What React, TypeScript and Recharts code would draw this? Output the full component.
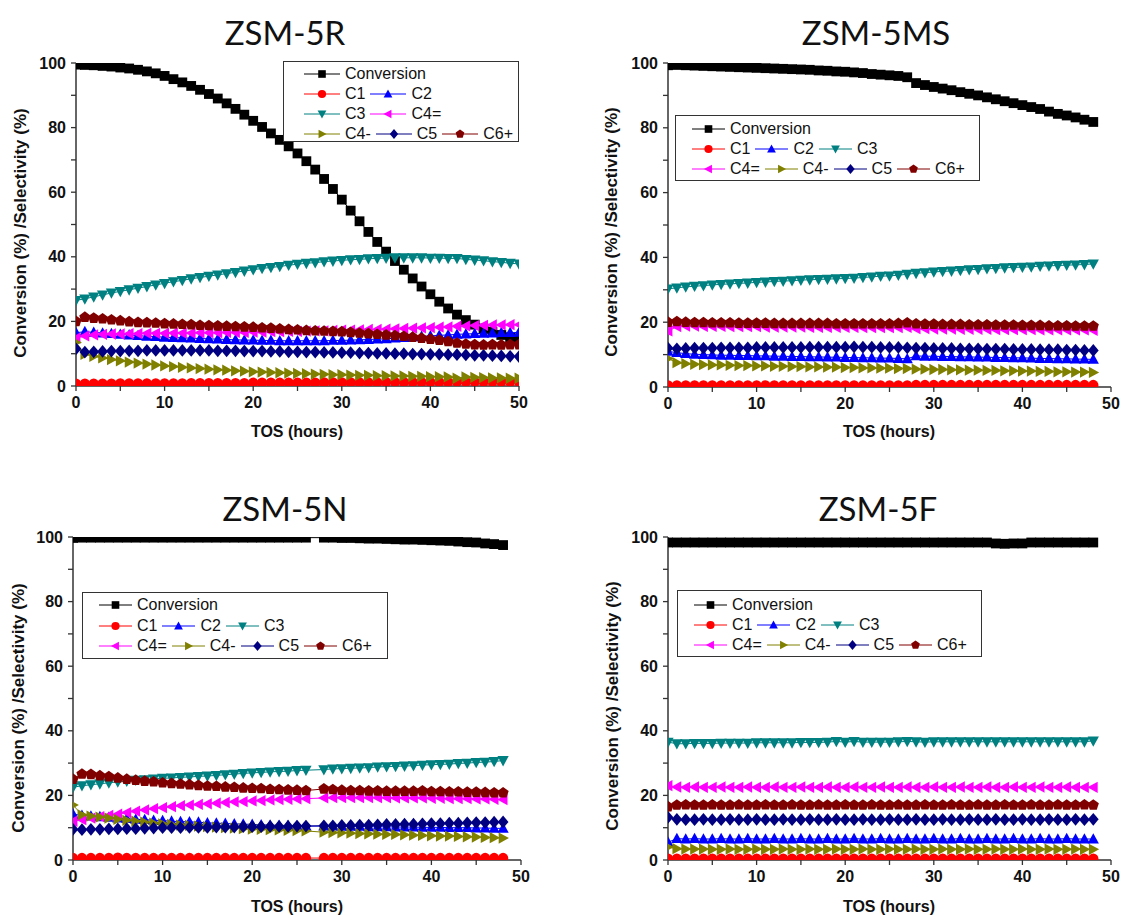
import React from "react";
import { LineChart, Line, XAxis, YAxis } from "recharts";

// time on stream (hours)
const hoursR = [0, 1, 2, 3, 4, 5, 6, 7, 8, 9, 10, 11, 12, 13, 14, 15, 16, 17, 18, 19, 20, 21, 22, 23, 24, 25, 26, 27, 28, 29, 30, 31, 32, 33, 34, 35, 36, 37, 38, 39, 40, 41, 42, 43, 44, 45, 46, 47, 48, 49, 50];
const hours48 = [0, 1, 2, 3, 4, 5, 6, 7, 8, 9, 10, 11, 12, 13, 14, 15, 16, 17, 18, 19, 20, 21, 22, 23, 24, 25, 26, 27, 28, 29, 30, 31, 32, 33, 34, 35, 36, 37, 38, 39, 40, 41, 42, 43, 44, 45, 46, 47, 48];
const hoursN = [0, 1, 2, 3, 4, 5, 6, 7, 8, 9, 10, 11, 12, 13, 14, 15, 16, 17, 18, 19, 20, 21, 22, 23, 24, 25, 26, 28, 29, 30, 31, 32, 33, 34, 35, 36, 37, 38, 39, 40, 41, 42, 43, 44, 45, 46, 47, 48];

const xTicks = [0, 5, 10, 15, 20, 25, 30, 35, 40, 45, 50];
const yTicks = [0, 10, 20, 30, 40, 50, 60, 70, 80, 90, 100];

// ZSM-5R
const convR = [99.5, 99.4, 99.3, 99.1, 98.9, 98.6, 98.3, 97.9, 97.4, 96.8, 96.0, 95.0, 94.0, 92.9, 91.7, 90.4, 89.0, 87.5, 85.8, 84.0, 82.1, 80.2, 78.2, 76.2, 74.2, 72.0, 69.6, 67.0, 64.1, 61.0, 57.7, 54.3, 51.0, 47.7, 44.6, 41.6, 38.7, 36.0, 33.3, 30.8, 28.4, 26.1, 24.0, 22.1, 20.4, 19.0, 17.8, 16.8, 15.8, 14.9, 14.1];
const c1R = [0.7, 0.7, 0.7, 0.7, 0.7, 0.8, 0.8, 0.8, 0.8, 0.8, 0.8, 0.8, 0.8, 0.9, 0.9, 0.9, 0.9, 0.9, 0.9, 0.9, 1.0, 1.0, 1.0, 1.0, 1.0, 1.0, 1.0, 1.0, 1.1, 1.1, 1.1, 1.1, 1.1, 1.1, 1.1, 1.2, 1.2, 1.2, 1.2, 1.2, 1.2, 1.2, 1.2, 1.3, 1.3, 1.3, 1.3, 1.3, 1.3, 1.3, 1.3];
const c2R = [16.5, 16.8, 16.6, 16.4, 16.2, 16.0, 15.8, 15.6, 15.4, 15.3, 15.1, 15.0, 14.9, 14.8, 14.7, 14.6, 14.5, 14.4, 14.3, 14.2, 14.2, 14.1, 14.1, 14.0, 14.0, 14.0, 14.0, 14.0, 14.0, 14.1, 14.1, 14.2, 14.3, 14.4, 14.5, 14.6, 14.8, 15.0, 15.2, 15.4, 15.5, 15.7, 15.8, 16.0, 16.1, 16.2, 16.3, 16.4, 16.5, 16.5, 16.6];
const c3R = [26.5, 27.0, 27.6, 28.2, 28.8, 29.3, 29.8, 30.3, 30.8, 31.3, 31.8, 32.3, 32.7, 33.2, 33.6, 34.0, 34.4, 34.8, 35.2, 35.6, 36.0, 36.4, 36.7, 37.0, 37.4, 37.7, 38.0, 38.2, 38.5, 38.7, 38.9, 39.1, 39.2, 39.4, 39.5, 39.6, 39.7, 39.7, 39.7, 39.7, 39.6, 39.6, 39.5, 39.5, 39.2, 39.0, 38.8, 38.5, 38.3, 38.0, 37.8];
const c4eR = [14.8, 15.5, 15.8, 16.0, 16.1, 16.1, 16.2, 16.2, 16.3, 16.3, 16.3, 16.4, 16.4, 16.4, 16.5, 16.5, 16.5, 16.6, 16.6, 16.6, 16.7, 16.7, 16.8, 16.8, 16.9, 16.9, 17.0, 17.1, 17.1, 17.2, 17.3, 17.3, 17.4, 17.5, 17.5, 17.6, 17.7, 17.8, 17.9, 18.0, 18.1, 18.2, 18.3, 18.5, 18.6, 18.7, 18.8, 18.9, 18.9, 19.0, 19.0];
const c4mR = [13.5, 9.8, 9.2, 8.7, 8.2, 7.8, 7.4, 7.1, 6.8, 6.5, 6.2, 6.0, 5.8, 5.6, 5.4, 5.2, 5.0, 4.9, 4.7, 4.6, 4.4, 4.3, 4.2, 4.1, 4.0, 3.9, 3.8, 3.7, 3.6, 3.5, 3.5, 3.4, 3.3, 3.3, 3.2, 3.2, 3.1, 3.1, 3.0, 3.0, 2.9, 2.9, 2.8, 2.4, 2.8, 2.7, 2.6, 2.5, 2.5, 2.4, 2.4];
const c5R = [11.5, 10.5, 10.6, 10.7, 10.8, 10.8, 10.9, 10.9, 11.0, 11.0, 11.0, 11.0, 11.0, 11.0, 11.0, 11.0, 10.9, 10.9, 10.9, 10.8, 10.8, 10.8, 10.7, 10.7, 10.6, 10.6, 10.5, 10.5, 10.4, 10.4, 10.3, 10.3, 10.2, 10.2, 10.1, 10.1, 10.0, 10.0, 9.9, 9.9, 9.8, 9.8, 9.7, 9.7, 9.6, 9.5, 9.5, 9.4, 9.3, 9.2, 9.1];
const c6R = [20.0, 21.3, 21.0, 20.8, 20.5, 20.2, 19.9, 19.7, 19.6, 19.5, 19.3, 19.2, 19.1, 19.0, 18.8, 18.7, 18.6, 18.5, 18.4, 18.3, 18.2, 18.0, 17.9, 17.7, 17.5, 17.4, 17.2, 17.1, 17.0, 16.9, 16.8, 16.6, 16.4, 16.2, 16.0, 15.8, 15.6, 15.4, 15.1, 14.8, 14.5, 14.2, 13.8, 13.3, 13.0, 12.8, 12.7, 12.8, 12.7, 12.8, 12.8];

// ZSM-5MS
const convMS = [99.3, 99.4, 99.3, 99.2, 99.1, 99.0, 98.9, 98.8, 98.7, 98.6, 98.5, 98.4, 98.3, 98.2, 98.1, 98.0, 97.9, 97.7, 97.6, 97.4, 97.3, 97.1, 96.9, 96.6, 96.4, 96.2, 96.0, 95.6, 93.8, 93.2, 92.6, 92.1, 91.6, 91.0, 90.5, 90.0, 89.4, 88.8, 88.2, 87.6, 87.0, 86.4, 85.8, 85.0, 84.3, 83.8, 83.2, 82.5, 81.8];
const c1MS = [0.5, 0.5, 0.5, 0.5, 0.5, 0.5, 0.5, 0.5, 0.5, 0.5, 0.5, 0.5, 0.5, 0.5, 0.5, 0.5, 0.5, 0.5, 0.5, 0.5, 0.5, 0.5, 0.5, 0.5, 0.5, 0.5, 0.5, 0.5, 0.6, 0.6, 0.6, 0.6, 0.6, 0.6, 0.6, 0.6, 0.6, 0.6, 0.6, 0.6, 0.6, 0.6, 0.6, 0.6, 0.6, 0.6, 0.6, 0.6, 0.6];
const c2MS = [11.0, 10.6, 10.3, 10.1, 10.0, 9.9, 9.8, 9.8, 9.7, 9.7, 9.6, 9.6, 9.5, 9.5, 9.4, 9.4, 9.3, 9.3, 9.2, 9.2, 9.1, 9.1, 9.0, 9.0, 8.9, 8.9, 8.8, 8.7, 9.6, 9.5, 9.5, 9.4, 9.4, 9.3, 9.3, 9.2, 9.2, 9.1, 9.1, 9.0, 9.0, 8.9, 8.8, 8.8, 8.7, 8.7, 8.6, 8.6, 8.5];
const c3MS = [30.3, 30.6, 30.9, 31.1, 31.3, 31.5, 31.7, 31.8, 32.0, 32.1, 32.3, 32.4, 32.6, 32.7, 32.8, 33.0, 33.1, 33.2, 33.3, 33.4, 33.5, 33.6, 33.8, 34.0, 34.2, 34.3, 34.5, 34.8, 35.1, 35.3, 35.5, 35.7, 35.8, 36.0, 36.2, 36.3, 36.5, 36.6, 36.8, 36.9, 37.0, 37.1, 37.3, 37.4, 37.5, 37.6, 37.7, 37.8, 38.0];
const c4eMS = [17.3, 18.6, 18.8, 18.8, 18.7, 18.7, 18.7, 18.6, 18.6, 18.6, 18.6, 18.5, 18.5, 18.5, 18.5, 18.5, 18.4, 18.4, 18.4, 18.4, 18.4, 18.4, 18.3, 18.3, 18.3, 18.3, 18.3, 18.4, 18.0, 18.0, 17.9, 17.9, 17.9, 17.8, 17.8, 17.8, 17.8, 17.7, 17.7, 17.7, 17.7, 17.7, 17.6, 17.6, 17.6, 17.6, 17.6, 17.6, 17.5];
const c4mMS = [8.8, 7.5, 7.2, 7.0, 6.9, 6.8, 6.8, 6.7, 6.6, 6.6, 6.5, 6.5, 6.4, 6.4, 6.3, 6.3, 6.2, 6.2, 6.1, 6.1, 6.0, 6.0, 5.9, 5.9, 5.8, 5.8, 5.7, 5.7, 5.5, 5.5, 5.4, 5.4, 5.3, 5.3, 5.2, 5.2, 5.1, 5.1, 5.0, 5.0, 4.9, 4.9, 4.8, 4.8, 4.7, 4.7, 4.6, 4.6, 4.5];
const c5MS = [12.0, 11.8, 11.9, 12.0, 12.0, 12.0, 12.1, 12.1, 12.1, 12.1, 12.2, 12.2, 12.2, 12.2, 12.2, 12.2, 12.3, 12.3, 12.3, 12.3, 12.3, 12.4, 12.3, 12.3, 12.2, 12.2, 12.2, 12.1, 12.0, 12.0, 11.9, 11.9, 11.9, 11.8, 11.8, 11.8, 11.7, 11.7, 11.7, 11.6, 11.6, 11.6, 11.5, 11.5, 11.5, 11.4, 11.4, 11.3, 11.3];
const c6MS = [20.0, 20.2, 20.0, 19.9, 19.9, 19.8, 19.8, 19.8, 19.7, 19.7, 19.7, 19.7, 19.6, 19.6, 19.6, 19.6, 19.6, 19.6, 19.6, 19.5, 19.5, 19.5, 19.5, 19.5, 19.5, 19.5, 19.6, 19.8, 19.5, 19.4, 19.4, 19.3, 19.3, 19.3, 19.2, 19.2, 19.2, 19.1, 19.1, 19.1, 19.0, 19.0, 19.0, 18.9, 18.9, 18.9, 18.8, 18.8, 18.8];

// ZSM-5N (no reading at 27 h)
const convN = [99.7, 99.8, 99.8, 99.8, 99.8, 99.8, 99.8, 99.8, 99.8, 99.8, 99.8, 99.8, 99.8, 99.8, 99.8, 99.8, 99.8, 99.8, 99.8, 99.8, 99.8, 99.8, 99.8, 99.8, 99.8, 99.8, 99.8, 99.8, 99.8, 99.7, 99.7, 99.6, 99.5, 99.5, 99.4, 99.3, 99.2, 99.2, 99.1, 99.0, 98.9, 98.8, 98.6, 98.4, 98.3, 98.0, 97.8, 97.5];
const c1N = [0.6, 0.6, 0.6, 0.6, 0.6, 0.7, 0.6, 0.6, 0.6, 0.6, 0.6, 0.6, 0.6, 0.6, 0.6, 0.6, 0.6, 0.6, 0.6, 0.6, 0.6, 0.6, 0.6, 0.6, 0.6, 0.6, 0.6, 0.6, 0.6, 0.6, 0.6, 0.6, 0.6, 0.6, 0.6, 0.6, 0.6, 0.6, 0.6, 0.6, 0.6, 0.6, 0.6, 0.6, 0.6, 0.6, 0.6, 0.6];
const c2N = [14.2, 13.8, 13.6, 13.4, 13.2, 13.0, 12.8, 12.6, 12.5, 12.3, 12.2, 12.0, 11.9, 11.8, 11.7, 11.5, 11.4, 11.3, 11.2, 11.1, 11.0, 10.9, 10.8, 10.7, 10.7, 10.6, 10.5, 10.5, 10.5, 10.4, 10.4, 10.4, 10.3, 10.3, 10.3, 10.2, 10.2, 10.2, 10.1, 10.1, 10.1, 10.0, 10.0, 10.0, 9.9, 9.9, 9.8, 9.8];
const c3N = [22.5, 23.0, 23.3, 23.6, 23.9, 24.2, 24.4, 24.7, 24.9, 25.1, 25.3, 25.4, 25.6, 25.7, 25.9, 26.0, 26.2, 26.4, 26.6, 26.8, 27.0, 27.1, 27.3, 27.4, 27.5, 27.7, 27.8, 28.0, 28.2, 28.3, 28.4, 28.5, 28.6, 28.8, 28.9, 29.0, 29.1, 29.2, 29.4, 29.5, 29.6, 29.7, 29.9, 30.0, 30.2, 30.3, 30.5, 30.8];
const c4eN = [12.0, 12.5, 13.0, 13.4, 13.8, 14.2, 14.7, 15.1, 15.5, 15.9, 16.2, 16.5, 16.8, 17.0, 17.2, 17.4, 17.6, 17.8, 18.0, 18.1, 18.3, 18.4, 18.6, 18.7, 18.8, 18.9, 19.0, 19.2, 19.3, 19.3, 19.3, 19.3, 19.3, 19.3, 19.3, 19.2, 19.2, 19.2, 19.2, 19.1, 19.1, 19.0, 19.0, 19.0, 18.9, 18.9, 18.8, 18.7];
const c4mN = [17.0, 14.0, 13.6, 13.3, 13.0, 12.6, 12.3, 12.0, 11.7, 11.4, 11.2, 11.0, 10.8, 10.7, 10.5, 10.3, 10.2, 10.0, 9.9, 9.7, 9.6, 9.5, 9.4, 9.3, 9.2, 9.1, 9.0, 8.6, 8.5, 8.4, 8.3, 8.2, 8.1, 8.0, 7.9, 7.9, 7.8, 7.7, 7.6, 7.5, 7.4, 7.4, 7.3, 7.2, 7.1, 7.0, 6.9, 6.8];
const c5N = [9.5, 9.4, 9.5, 9.5, 9.6, 9.6, 9.7, 9.7, 9.8, 9.9, 10.0, 10.0, 10.0, 10.1, 10.1, 10.1, 10.2, 10.2, 10.2, 10.3, 10.3, 10.3, 10.4, 10.4, 10.4, 10.5, 10.5, 10.6, 10.6, 10.7, 10.7, 10.8, 10.8, 10.9, 11.0, 11.0, 11.1, 11.1, 11.2, 11.3, 11.3, 11.4, 11.4, 11.5, 11.6, 11.6, 11.7, 11.8];
const c6N = [25.0, 26.6, 26.5, 26.1, 25.8, 25.4, 25.0, 24.7, 24.4, 24.2, 23.9, 23.7, 23.5, 23.3, 23.1, 22.9, 22.8, 22.6, 22.5, 22.3, 22.2, 22.1, 21.9, 21.8, 21.7, 21.6, 21.5, 22.0, 21.8, 21.6, 21.5, 21.5, 21.4, 21.4, 21.3, 21.3, 21.3, 21.3, 21.4, 21.2, 21.2, 21.1, 21.1, 21.0, 21.0, 20.9, 20.8, 20.8];

// ZSM-5F
const convF = [98.3, 98.3, 98.3, 98.3, 98.3, 98.3, 98.3, 98.3, 98.3, 98.3, 98.3, 98.3, 98.3, 98.3, 98.3, 98.3, 98.3, 98.3, 98.3, 98.3, 98.3, 98.3, 98.3, 98.3, 98.3, 98.3, 98.3, 98.3, 98.3, 98.3, 98.3, 98.3, 98.3, 98.3, 98.3, 98.3, 98.3, 98.0, 97.9, 98.0, 98.0, 98.3, 98.3, 98.3, 98.3, 98.3, 98.3, 98.3, 98.3];
const c1F = [0.4, 0.4, 0.4, 0.4, 0.4, 0.4, 0.4, 0.4, 0.4, 0.4, 0.4, 0.4, 0.4, 0.4, 0.4, 0.4, 0.4, 0.4, 0.4, 0.4, 0.4, 0.4, 0.4, 0.4, 0.4, 0.4, 0.4, 0.4, 0.4, 0.4, 0.4, 0.4, 0.4, 0.4, 0.4, 0.4, 0.4, 0.4, 0.4, 0.4, 0.4, 0.4, 0.4, 0.4, 0.4, 0.4, 0.4, 0.4, 0.4];
const c2F = [5.5, 6.6, 6.5, 6.6, 6.5, 6.5, 6.6, 6.5, 6.5, 6.6, 6.5, 6.5, 6.6, 6.5, 6.5, 6.6, 6.5, 6.5, 6.6, 6.5, 6.5, 6.6, 6.5, 6.5, 6.6, 6.5, 6.5, 6.6, 6.5, 6.5, 6.6, 6.5, 6.5, 6.6, 6.5, 6.5, 6.6, 6.5, 6.5, 6.6, 6.5, 6.5, 6.6, 6.5, 6.5, 6.6, 6.5, 6.5, 6.5];
const c3F = [36.5, 36.0, 36.0, 36.1, 36.1, 36.1, 36.2, 36.2, 36.2, 36.2, 36.3, 36.3, 36.3, 36.3, 36.3, 36.4, 36.4, 36.4, 36.5, 36.7, 36.5, 36.7, 36.5, 36.5, 36.5, 36.5, 36.6, 36.7, 36.6, 36.5, 36.6, 36.6, 36.6, 36.6, 36.6, 36.6, 36.6, 36.6, 36.6, 36.6, 36.6, 36.6, 36.6, 36.6, 36.6, 36.6, 36.6, 36.6, 36.9];
const c4eF = [23.0, 22.6, 22.5, 22.6, 22.5, 22.5, 22.6, 22.5, 22.5, 22.6, 22.5, 22.5, 22.6, 22.5, 22.5, 22.6, 22.5, 22.5, 22.6, 22.5, 22.5, 22.6, 22.5, 22.5, 22.6, 22.5, 22.5, 22.6, 22.5, 22.5, 22.6, 22.5, 22.5, 22.6, 22.5, 22.5, 22.6, 22.5, 22.5, 22.6, 22.5, 22.5, 22.6, 22.5, 22.5, 22.6, 22.5, 22.5, 22.5];
const c4mF = [4.0, 3.5, 3.4, 3.4, 3.4, 3.3, 3.3, 3.4, 3.3, 3.3, 3.4, 3.3, 3.3, 3.4, 3.3, 3.3, 3.4, 3.3, 3.3, 3.4, 3.3, 3.3, 3.4, 3.3, 3.3, 3.4, 3.3, 3.3, 3.4, 3.3, 3.3, 3.4, 3.3, 3.3, 3.4, 3.3, 3.3, 3.4, 3.3, 3.3, 3.4, 3.3, 3.3, 3.4, 3.3, 3.3, 3.4, 3.3, 3.3];
const c5F = [13.2, 12.6, 12.5, 12.5, 12.6, 12.5, 12.5, 12.6, 12.5, 12.5, 12.6, 12.5, 12.5, 12.6, 12.5, 12.5, 12.6, 12.5, 12.5, 12.6, 12.5, 12.5, 12.6, 12.5, 12.5, 12.6, 12.5, 12.5, 12.6, 12.5, 12.5, 12.6, 12.5, 12.5, 12.6, 12.5, 12.5, 12.6, 12.5, 12.5, 12.6, 12.5, 12.5, 12.6, 12.5, 12.5, 12.6, 12.5, 12.6];
const c6F = [16.5, 17.0, 17.1, 17.0, 17.0, 17.1, 17.0, 17.0, 17.1, 17.0, 17.0, 17.1, 17.0, 17.0, 17.1, 17.0, 17.0, 17.1, 17.0, 17.0, 17.1, 17.0, 17.0, 17.1, 17.0, 17.0, 17.1, 17.0, 17.0, 17.1, 17.0, 17.0, 17.1, 17.0, 17.0, 17.1, 17.0, 17.0, 17.1, 17.0, 17.0, 17.1, 17.0, 17.0, 17.1, 17.0, 17.0, 17.1, 17.0];

const SERIES = [
  { key: "conv", name: "Conversion", color: "#000000", shape: "square" },
  { key: "c1", name: "C1", color: "#FF0000", shape: "circle" },
  { key: "c2", name: "C2", color: "#0000FF", shape: "up" },
  { key: "c3", name: "C3", color: "#008080", shape: "down" },
  { key: "c4e", name: "C4=", color: "#FF00FF", shape: "left" },
  { key: "c4m", name: "C4-", color: "#808000", shape: "right" },
  { key: "c5", name: "C5", color: "#000080", shape: "diamond" },
  { key: "c6", name: "C6+", color: "#800000", shape: "pentagon" },
];

const ROWS_3 = [["conv"], ["c1", "c2", "c3"], ["c4e", "c4m", "c5", "c6"]];

const PANELS = [
  {
    title: "ZSM-5R",
    hours: hoursR,
    values: { conv: convR, c1: c1R, c2: c2R, c3: c3R, c4e: c4eR, c4m: c4mR, c5: c5R, c6: c6R },
    box: { x: 0, y: 0, w: 561, h: 458 },
    plot: { l: 76, r: 519, t: 63, b: 386 },
    titlePos: [285, 32],
    yLab: [21, 233],
    xLab: [297, 432],
    legend: { x: 283, y: 61, w: 236, h: 81, padX: 20, lineLen: 36, rowY: [12, 32, 52, 72], rows: [["conv"], ["c1", "c2"], ["c3", "c4e"], ["c4m", "c5", "c6"]] },
  },
  {
    title: "ZSM-5MS",
    hours: hours48,
    values: { conv: convMS, c1: c1MS, c2: c2MS, c3: c3MS, c4e: c4eMS, c4m: c4mMS, c5: c5MS, c6: c6MS },
    box: { x: 561, y: 0, w: 561, h: 458 },
    plot: { l: 668, r: 1111, t: 63, b: 387 },
    titlePos: [876, 32],
    yLab: [612, 232],
    xLab: [889, 432],
    legend: { x: 675, y: 115, w: 305, h: 66, padX: 16, lineLen: 33, rowY: [13, 33, 53], rows: ROWS_3 },
  },
  {
    title: "ZSM-5N",
    hours: hoursN,
    values: { conv: convN, c1: c1N, c2: c2N, c3: c3N, c4e: c4eN, c4m: c4mN, c5: c5N, c6: c6N },
    box: { x: 0, y: 458, w: 561, h: 457 },
    plot: { l: 73, r: 521, t: 537, b: 860 },
    titlePos: [285, 508],
    yLab: [19, 708],
    xLab: [297, 907],
    legend: { x: 82, y: 592, w: 306, h: 67, padX: 16, lineLen: 33, rowY: [12, 33, 53], rows: ROWS_3 },
  },
  {
    title: "ZSM-5F",
    hours: hours48,
    values: { conv: convF, c1: c1F, c2: c2F, c3: c3F, c4e: c4eF, c4m: c4mF, c5: c5F, c6: c6F },
    box: { x: 561, y: 458, w: 561, h: 457 },
    plot: { l: 668, r: 1111, t: 537, b: 860 },
    titlePos: [878, 508],
    yLab: [613, 706],
    xLab: [889, 907],
    legend: { x: 677, y: 590, w: 305, h: 67, padX: 16, lineLen: 33, rowY: [14, 34, 54], rows: ROWS_3 },
  },
];

const Y_AXIS_W = 40;
const X_AXIS_H = 30;
const AXIS_COLOR = "#333";
const TICK_FONT = { fill: "#111", fontSize: 16, fontWeight: "bold", fontFamily: "'Liberation Sans', Arial, sans-serif" };

function marker(shape: string, cx: number, cy: number, r: number, color: string, key?: string) {
  const p = (pts: number[][]) => pts.map((q) => `${cx + q[0]},${cy + q[1]}`).join(" ");
  switch (shape) {
    case "square":
      return <rect key={key} x={cx - r} y={cy - r} width={2 * r} height={2 * r} fill={color} />;
    case "circle":
      return <circle key={key} cx={cx} cy={cy} r={r + 0.3} fill={color} />;
    case "up":
      return <polygon key={key} points={p([[0, -r * 1.2], [r * 1.15, r * 0.9], [-r * 1.15, r * 0.9]])} fill={color} />;
    case "down":
      return <polygon key={key} points={p([[0, r * 1.2], [r * 1.15, -r * 0.9], [-r * 1.15, -r * 0.9]])} fill={color} />;
    case "left":
      return <polygon key={key} points={p([[-r * 1.2, 0], [r * 0.9, -r * 1.15], [r * 0.9, r * 1.15]])} fill={color} />;
    case "right":
      return <polygon key={key} points={p([[r * 1.2, 0], [-r * 0.9, -r * 1.15], [-r * 0.9, r * 1.15]])} fill={color} />;
    case "diamond":
      return <polygon key={key} points={p([[0, -r * 1.3], [r * 1.1, 0], [0, r * 1.3], [-r * 1.1, 0]])} fill={color} />;
    default: {
      const pts = [0, 1, 2, 3, 4].map((k) => {
        const a = ((-90 + 72 * k) * Math.PI) / 180;
        return [Math.cos(a) * r * 1.2, Math.sin(a) * r * 1.2];
      });
      return <polygon key={key} points={p(pts)} fill={color} />;
    }
  }
}

function Legend2({ cfg }: { cfg: any }) {
  const byKey: Record<string, any> = {};
  SERIES.forEach((s) => (byKey[s.key] = s));
  return (
    <div
      style={{
        position: "absolute",
        left: cfg.x,
        top: cfg.y,
        width: cfg.w,
        height: cfg.h,
        border: "1.5px solid #333",
        boxSizing: "border-box",
        background: "#fff",
      }}
    >
      {cfg.rows.map((row: string[], ri: number) => (
        <div
          key={ri}
          style={{
            position: "absolute",
            left: cfg.padX,
            top: cfg.rowY[ri] - 10,
            height: 20,
            display: "flex",
            alignItems: "center",
            whiteSpace: "nowrap",
          }}
        >
          {row.map((k) => {
            const s = byKey[k];
            return (
              <span key={k} style={{ display: "inline-flex", alignItems: "center", marginRight: 5 }}>
                <svg width={cfg.lineLen} height={14}>
                  <line x1={0} y1={7} x2={cfg.lineLen} y2={7} stroke={s.color} strokeWidth={1} />
                  {marker(s.shape, cfg.lineLen / 2, 7, 3.8, s.color)}
                </svg>
                <span style={{ marginLeft: 5, fontSize: 16, fontFamily: "'Liberation Sans', Arial, sans-serif", color: "#111", lineHeight: "20px" }}>
                  {s.name}
                </span>
              </span>
            );
          })}
        </div>
      ))}
    </div>
  );
}

function Panel({ cfg }: { cfg: any }) {
  const { box, plot } = cfg;
  const data = cfg.hours.map((h: number, i: number) => {
    const row: Record<string, number> = { h };
    SERIES.forEach((s) => (row[s.key] = cfg.values[s.key][i]));
    return row;
  });
  const margin = {
    left: plot.l - box.x - Y_AXIS_W,
    right: box.x + box.w - plot.r,
    top: plot.t - box.y,
    bottom: box.y + box.h - plot.b - X_AXIS_H,
  };
  const textBase = { position: "absolute" as const, whiteSpace: "nowrap" as const, color: "#111" };

  return (
    <>
      <div style={{ position: "absolute", left: box.x, top: box.y }}>
        <LineChart width={box.w} height={box.h} data={data} margin={margin}>
          <XAxis
            dataKey="h"
            type="number"
            domain={[0, 50]}
            allowDataOverflow
            ticks={xTicks}
            interval={0}
            tickFormatter={(v: number) => (v % 10 === 0 ? String(v) : "")}
            tick={TICK_FONT}
            tickSize={5}
            tickMargin={6}
            height={X_AXIS_H}
            axisLine={{ stroke: AXIS_COLOR, strokeWidth: 1.5 }}
            tickLine={{ stroke: AXIS_COLOR, strokeWidth: 1.3 }}
          />
          <XAxis
            xAxisId="top"
            orientation="top"
            type="number"
            domain={[0, 50]}
            tick={false}
            tickLine={false}
            height={0}
            axisLine={{ stroke: AXIS_COLOR, strokeWidth: 1.5 }}
          />
          <YAxis
            type="number"
            domain={[0, 100]}
            allowDataOverflow
            ticks={yTicks}
            interval={0}
            tickFormatter={(v: number) => (v % 20 === 0 ? String(v) : "")}
            tick={TICK_FONT}
            tickSize={5}
            tickMargin={5}
            width={Y_AXIS_W}
            axisLine={{ stroke: AXIS_COLOR, strokeWidth: 1.5 }}
            tickLine={{ stroke: AXIS_COLOR, strokeWidth: 1.3 }}
          />
          <YAxis
            yAxisId="right"
            orientation="right"
            type="number"
            domain={[0, 100]}
            tick={false}
            tickLine={false}
            width={0}
            axisLine={{ stroke: AXIS_COLOR, strokeWidth: 1.5 }}
          />
          {SERIES.map((s) => (
            <Line
              key={s.key}
              dataKey={s.key}
              name={s.name}
              type="linear"
              stroke={s.color}
              strokeWidth={1}
              isAnimationActive={false}
              activeDot={false}
              dot={(props: any) => {
                const { cx, cy, index } = props;
                if (cx == null || cy == null) return <g key={`${s.key}-${index}`} />;
                return marker(s.shape, cx, cy, 4.9, s.color, `${s.key}-${index}`);
              }}
            />
          ))}
        </LineChart>
      </div>
      <div
        style={{
          ...textBase,
          left: cfg.titlePos[0],
          top: cfg.titlePos[1],
          transform: "translate(-50%, -50%)",
          fontFamily: "Lato, 'Open Sans', sans-serif",
          fontSize: 33,
          lineHeight: "40px",
        }}
      >
        {cfg.title}
      </div>
      <div
        style={{
          ...textBase,
          left: cfg.yLab[0],
          top: cfg.yLab[1],
          transform: "translate(-50%, -50%) rotate(-90deg)",
          fontFamily: "'Liberation Sans', Arial, sans-serif",
          fontWeight: "bold",
          fontSize: 17,
          lineHeight: "20px",
        }}
      >
        Conversion (%) /Selectivity (%)
      </div>
      <div
        style={{
          ...textBase,
          left: cfg.xLab[0],
          top: cfg.xLab[1],
          transform: "translate(-50%, -50%)",
          fontFamily: "'Liberation Sans', Arial, sans-serif",
          fontWeight: "bold",
          fontSize: 16,
          lineHeight: "20px",
        }}
      >
        TOS (hours)
      </div>
      <Legend2 cfg={cfg.legend} />
    </>
  );
}

export default function App() {
  return (
    <div style={{ position: "absolute", left: 0, top: 0, width: 1122, height: 915, background: "#fff", overflow: "hidden" }}>
      {PANELS.map((p) => (
        <Panel key={p.title} cfg={p} />
      ))}
    </div>
  );
}
